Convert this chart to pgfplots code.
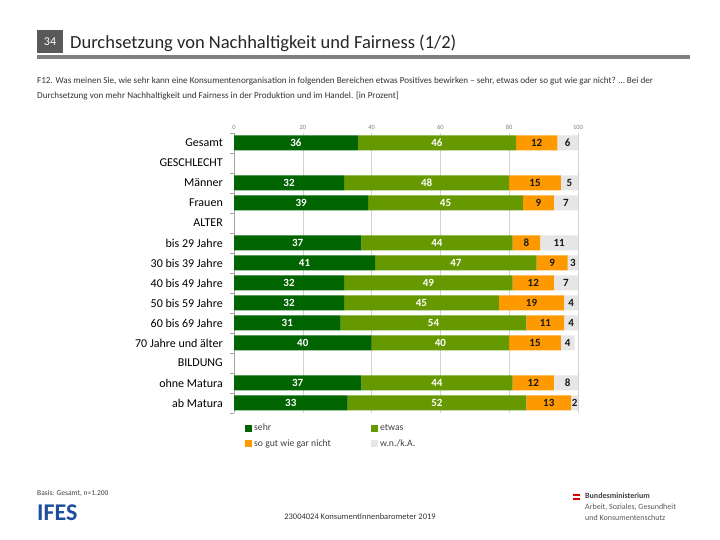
\documentclass[border=0pt]{standalone}
\usepackage{fontspec}
\setmainfont{Carlito}
\usepackage{pgfplots}
\pgfplotsset{compat=1.18}
\usepackage{pgfplotstable}

\definecolor{sehr}{RGB}{0,100,0}
\definecolor{etwas}{RGB}{102,153,0}
\definecolor{gar}{RGB}{255,153,0}
\definecolor{wn}{RGB}{230,230,230}
\definecolor{titlegray}{RGB}{89,89,89}
\definecolor{ifesblue}{RGB}{31,78,154}

\pgfplotstableread{
y a b c d
0 36 46 12 6
2 32 48 15 5
3 39 45 9 7
5 37 44 8 11
6 41 47 9 3
7 32 49 12 7
8 32 45 19 4
9 31 54 11 4
10 40 40 15 4
12 37 44 12 8
13 33 52 13 2
}\data

\pgfplotsset{
  common/.style={
    at={(234pt,127pt)}, anchor=south west,
    width=344pt, height=280pt, scale only axis,
    xmin=0, xmax=100, ymin=-0.5, ymax=13.5, y dir=reverse,
    /pgf/number format/assume math mode=true,
  }
}

\begin{document}
\begin{tikzpicture}[x=1pt,y=1pt]
\path[fill=white] (0,0) rectangle (720,540);

% header
\fill[titlegray] (37,487) rectangle (63,510);
\node[text=white, font=\fontsize{12}{14}\selectfont] at (50,498.5) {34};
\node[anchor=base west, inner sep=0pt, text=black!85, font=\fontsize{18.5}{22}\selectfont] at (70,491) {Durchsetzung von Nachhaltigkeit und Fairness (1/2)};
\fill[gray] (37,481) rectangle (690,485);
\node[anchor=base west, inner sep=0pt, font=\fontsize{9.1}{10}\selectfont, text=black!80] at (37,456) {F12. Was meinen Sie, wie sehr kann eine Konsumentenorganisation in folgenden Bereichen etwas Positives bewirken -- sehr, etwas oder so gut wie gar nicht? \dots\ Bei der};
\node[anchor=base west, inner sep=0pt, font=\fontsize{9.1}{10}\selectfont, text=black!80] at (37,441) {Durchsetzung von mehr Nachhaltigkeit und Fairness in der Produktion und im Handel. [in Prozent]};

\begin{axis}[common,
  xbar stacked, bar width=15pt,
  axis x line*=top, x axis line style={draw=none},
  axis y line*=left, y axis line style={draw=gray!70},
  xtick={0,20,...,100},
  xticklabel style={font=\fontsize{6.5}{7}\selectfont, text=gray},
  xmajorgrids, grid style={gray!35},
  major tick length=0pt,
  ytick={0,...,13},
  yticklabels={Gesamt, GESCHLECHT, Männer, Frauen, ALTER, bis 29 Jahre, 30 bis 39 Jahre, 40 bis 49 Jahre, 50 bis 59 Jahre, 60 bis 69 Jahre, 70 Jahre und älter, BILDUNG, ohne Matura, ab Matura},
  yticklabel style={font=\fontsize{12}{14}\selectfont, anchor=east, inner sep=0pt, xshift=-11pt},
  extra y ticks={-0.5,0.5,...,13.5},
  extra y tick labels={},
  extra y tick style={major tick length=4pt, tick align=outside, grid=none, tick style={draw=gray!70}},
  legend style={at={(0,0)}, anchor=north west, xshift=8pt, yshift=-7pt, draw=none, fill=none,
     font=\fontsize{9.7}{11}\selectfont, text=black!75, legend columns=2, row sep=3pt,
     /tikz/every even column/.append style={column sep=0pt}},
  legend image code/.code={\fill[#1] (0pt,-3.5pt) rectangle (7pt,3.5pt);},
  legend cell align=left,
]
\addplot[fill=sehr, draw=none] table[x=a, y=y] {\data};
\addplot[fill=etwas, draw=none] table[x=b, y=y] {\data};
\addplot[fill=gar, draw=none] table[x=c, y=y] {\data};
\addplot[fill=wn, draw=none] table[x=d, y=y] {\data};
\legend{\makebox[115pt][l]{sehr}, etwas, so gut wie gar nicht, w.n./k.A.}
\end{axis}

\begin{axis}[common, hide axis,
  nodes near coords, point meta=explicit,
  every node near coord/.append style={anchor=center, inner sep=0pt, font=\bfseries\fontsize{11}{12}\selectfont}]
\addplot[draw=none, mark=none, nodes near coords style={text=white}] table[x expr=\thisrow{a}/2, y=y, meta=a] {\data};
\addplot[draw=none, mark=none, nodes near coords style={text=white}] table[x expr=\thisrow{a}+\thisrow{b}/2, y=y, meta=b] {\data};
\addplot[draw=none, mark=none, nodes near coords style={text=black!90}] table[x expr=\thisrow{a}+\thisrow{b}+\thisrow{c}/2, y=y, meta=c] {\data};
\addplot[draw=none, mark=none, nodes near coords style={text=black!90}] table[x expr=\thisrow{a}+\thisrow{b}+\thisrow{c}+\thisrow{d}/2, y=y, meta=d] {\data};
\end{axis}

% footer
\node[anchor=base west, inner sep=0pt, font=\fontsize{7.5}{8}\selectfont, text=black!75] at (37,44) {Basis: Gesamt, n=1.200};
\node[anchor=base west, inner sep=0pt, font=\bfseries\fontsize{24}{26}\selectfont, text=ifesblue] at (37,19) {IFES};
\node[anchor=base, inner sep=0pt, font=\fontsize{8.5}{10}\selectfont, text=black!80] at (360,20) {23004024 KonsumentInnenbarometer 2019};
\fill[red!85!black] (573,44) rectangle (580,46);
\fill[red!85!black] (573,40) rectangle (580,42);
\node[anchor=base west, inner sep=0pt, font=\bfseries\fontsize{8}{9}\selectfont, text=black!75] at (585,41) {Bundesministerium};
\node[anchor=base west, inner sep=0pt, font=\fontsize{8}{9}\selectfont, text=black!65] at (585,30) {Arbeit, Soziales, Gesundheit};
\node[anchor=base west, inner sep=0pt, font=\fontsize{8}{9}\selectfont, text=black!65] at (585,19) {und Konsumentenschutz};
\end{tikzpicture}
\end{document}
